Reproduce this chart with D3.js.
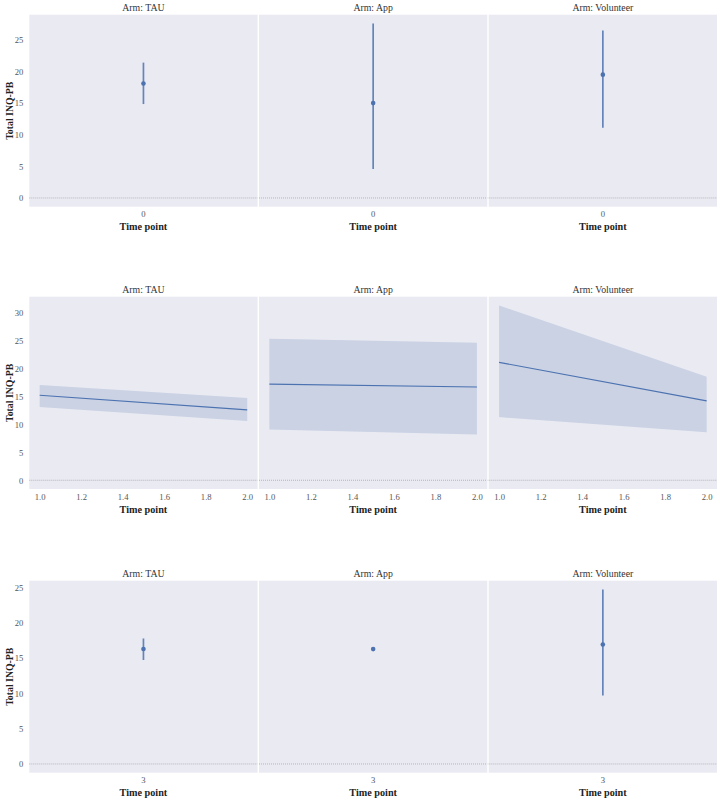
<!DOCTYPE html>
<html><head><meta charset="utf-8">
<script src="https://cdn.jsdelivr.net/npm/d3@7"></script>
<style>body{margin:0;background:#fff}</style>
</head><body>
<svg id="c" width="720" height="800"></svg>
<script>
const arms = ["TAU", "App", "Volunteer"];
// Row 1: time point 0 (mean, CI low, CI high)
const t0Mean = [18.1, 15.0, 19.5];
const t0Lo   = [14.85, 4.6, 11.1];
const t0Hi   = [21.4, 27.6, 26.5];
// Row 2: time points 1 and 2
const midTimes = [1, 2];
const midMean = [[15.2, 12.6], [17.2, 16.7], [21.1, 14.2]];
const midLo   = [[13.1, 10.6], [9.1, 8.2], [11.3, 8.6]];
const midHi   = [[17.05, 14.7], [25.3, 24.6], [31.28, 18.5]];
// Row 3: time point 3
const t3Mean = [16.3, 16.3, 16.95];
const t3Lo   = [14.75, 16.0, 9.7];
const t3Hi   = [17.8, 16.6, 24.76];
const yTicks = [[0,5,10,15,20,25],[0,5,10,15,20,25,30],[0,5,10,15,20,25]];
const xTicksMid = [1.0,1.2,1.4,1.6,1.8,2.0];

const svg = d3.select("#c");
const C = "#4C72B0", BG = "#EAEAF2";
const FONT = "'Liberation Serif', 'DejaVu Serif', serif";
const panelW = 228.3, gap = 1.4, left0 = 29.3;
const rows = [{top:14.7,bottom:206.7},{top:296.7,bottom:489},{top:580.7,bottom:772.7}];

function yDomain(lo, hi){
  const mn = Math.min(0, d3.min(lo)), mx = d3.max(hi);
  const m = (mx - mn) * 0.05;
  return [mn - m, mx + m];
}

rows.forEach((r, ri) => {
  let lows, highs;
  if (ri === 0){ lows = t0Lo; highs = t0Hi; }
  else if (ri === 1){ lows = midLo.flat(); highs = midHi.flat(); }
  else { lows = t3Lo; highs = t3Hi; }
  const y = d3.scaleLinear().domain(yDomain(lows, highs)).range([r.bottom, r.top]);

  arms.forEach((arm, ci) => {
    const x0 = left0 + ci * (panelW + gap);
    const g = svg.append("g");
    g.append("rect").attr("x", x0).attr("y", r.top).attr("width", panelW)
      .attr("height", r.bottom - r.top).attr("fill", BG);
    // zero line
    g.append("line").attr("x1", x0).attr("x2", x0 + panelW)
      .attr("y1", y(0)).attr("y2", y(0))
      .attr("stroke", "#b4b4b8").attr("stroke-width", 1).attr("stroke-dasharray", "1,1");
    // title
    g.append("text").attr("x", x0 + panelW/2).attr("y", r.top - 3.6)
      .attr("text-anchor", "middle").attr("font-family", FONT).attr("font-size", 9.8)
      .attr("fill", "#333").text("Arm: " + arm);
    // x label
    g.append("text").attr("x", x0 + panelW/2).attr("y", r.bottom + 23.5)
      .attr("text-anchor", "middle").attr("font-family", FONT).attr("font-size", 10.2)
      .attr("font-weight", "bold").attr("fill", "#222").text("Time point");

    if (ri === 1){
      const x = d3.scaleLinear().domain([0.95, 2.05]).range([x0, x0 + panelW]);
      const pts = midTimes.map((t, i) => ({t, m: midMean[ci][i], lo: midLo[ci][i], hi: midHi[ci][i]}));
      g.append("path").datum(pts)
        .attr("d", d3.area().x(d => x(d.t)).y0(d => y(d.lo)).y1(d => y(d.hi)))
        .attr("fill", C).attr("fill-opacity", 0.2);
      g.append("path").datum(pts)
        .attr("d", d3.line().x(d => x(d.t)).y(d => y(d.m)))
        .attr("fill", "none").attr("stroke", C).attr("stroke-width", 1.1);
      const ax = g.append("g").attr("transform", `translate(0,${r.bottom})`)
        .call(d3.axisBottom(x).tickValues(xTicksMid).tickFormat(d3.format(".1f")).tickSize(0).tickPadding(4.5));
      ax.select(".domain").remove();
      ax.selectAll("text").attr("font-family", FONT).attr("font-size", 8.6).attr("fill", "#555");
    } else {
      const cat = ri === 0 ? "0" : "3";
      const mean = ri === 0 ? t0Mean : t3Mean;
      const lo = ri === 0 ? t0Lo : t3Lo;
      const hi = ri === 0 ? t0Hi : t3Hi;
      const x = d3.scaleBand().domain([cat]).range([x0, x0 + panelW]);
      const cx = x(cat) + x.bandwidth()/2;
      g.append("line").attr("x1", cx).attr("x2", cx).attr("y1", y(lo[ci])).attr("y2", y(hi[ci]))
        .attr("stroke", C).attr("stroke-width", 1.7).attr("stroke-opacity", 0.85);
      g.append("circle").attr("cx", cx).attr("cy", y(mean[ci])).attr("r", 2.3).attr("fill", C);
      const ax = g.append("g").attr("transform", `translate(0,${r.bottom})`)
        .call(d3.axisBottom(x).tickSize(0).tickPadding(4.5));
      ax.select(".domain").remove();
      ax.selectAll("text").attr("font-family", FONT).attr("font-size", 8.6).attr("fill", "#555");
    }
  });

  // y axis (leftmost panel)
  const ay = svg.append("g").attr("transform", `translate(${left0},0)`)
    .call(d3.axisLeft(y).tickValues(yTicks[ri]).tickSize(0).tickPadding(6));
  ay.select(".domain").remove();
  ay.selectAll("text").attr("font-family", FONT).attr("font-size", 8.6).attr("fill", "#555");
  svg.append("text").attr("transform", `translate(12.5,${(r.top + r.bottom)/2}) rotate(-90)`)
    .attr("text-anchor", "middle").attr("font-family", FONT).attr("font-size", 9.8)
    .attr("font-weight", "bold").attr("fill", "#222").text("Total INQ-PB");
});
</script>
</body></html>
